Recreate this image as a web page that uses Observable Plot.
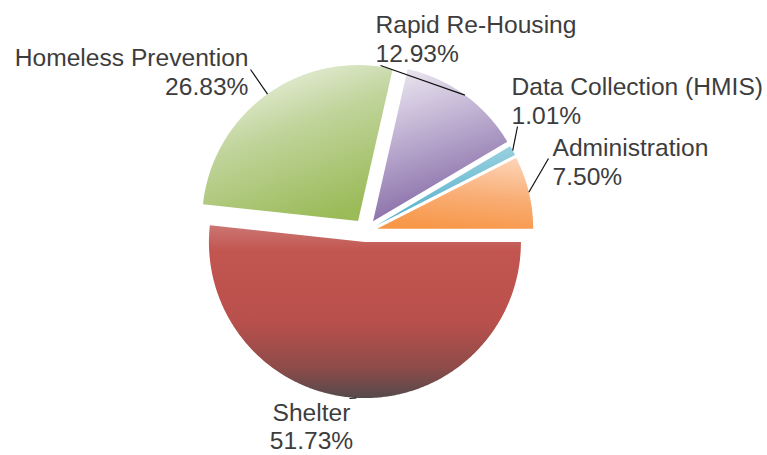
<!DOCTYPE html>
<html><head><meta charset="utf-8">
<script src="https://cdn.jsdelivr.net/npm/d3@7"></script>
<script src="https://cdn.jsdelivr.net/npm/@observablehq/plot@0.6"></script>
<style>html,body{margin:0;padding:0;background:#fff}svg{display:block}</style>
</head><body><div id="chart"></div>
<script>
// ---- data ----
const categories = ["Shelter", "Homeless Prevention", "Rapid Re-Housing", "Data Collection (HMIS)", "Administration"];
const shares = [51.73, 26.83, 12.93, 1.01, 7.50];
const pctLabels = ["51.73%", "26.83%", "12.93%", "1.01%", "7.50%"];

// ---- layout ----
const W = 767, H = 455, CX = 365, CY = 231, R = 156;
const explode = [10.6, 12.8, 12.8, 12, 12];
const gradients = [
  {id: "gShelter", x1: 0, y1: 0, x2: 0, y2: 1, stops: [[0, "#cb7673"], [0.15, "#c2554f"], [0.55, "#ba504c"], [0.82, "#8f4b49"], [1, "#554a4b"]]},
  {id: "gHomeless", x1: 0.15, y1: 0, x2: 0.6, y2: 1, stops: [[0, "#f1f5ea"], [0.45, "#c0d49b"], [1, "#9bbb59"]]},
  {id: "gRapid", x1: 0.2, y1: 0, x2: 0.5, y2: 1, stops: [[0, "#ebe7f0"], [0.35, "#c6b9d7"], [1, "#7f62a1"]]},
  {id: "gData", x1: 0, y1: 0, x2: 0.3, y2: 1, stops: [[0, "#b6dee9"], [1, "#4bacc6"]]},
  {id: "gAdmin", x1: 0.5, y1: 0, x2: 0.3, y2: 1, stops: [[0, "#fcd0b0"], [0.5, "#f9ad74"], [1, "#f79646"]]}
];
const labelLayout = [
  {x: 311, y: 401, anchor: "middle", lx: 349, ly: 398, lh: 1.14},
  {x: 248, y: 45, anchor: "end", lx: 250, ly: 69, lh: 1.17},
  {x: 375, y: 12, anchor: "start", lx: 380, ly: 65, lh: 1.17},
  {x: 511, y: 74, anchor: "start", lx: 517, ly: 126, lh: 1.17},
  {x: 552, y: 135, anchor: "start", lx: 548, ly: 158, lh: 1.17}
];

// ---- geometry from data ----
const arcs = d3.pie().sort(null).startAngle(Math.PI / 2).endAngle(Math.PI / 2 + 2 * Math.PI)(shares);
const pt = (cx, cy, r, a) => ({x: cx + r * Math.sin(a), y: cy - r * Math.cos(a)});
const slices = arcs.map((a, i) => {
  const mid = (a.startAngle + a.endAngle) / 2;
  const c = pt(CX, CY, explode[i], mid);
  const pts = [{x: c.x, y: c.y}];
  const n = Math.max(4, Math.ceil((a.endAngle - a.startAngle) / 0.01));
  for (let k = 0; k <= n; k++) pts.push(pt(c.x, c.y, R, a.startAngle + (a.endAngle - a.startAngle) * k / n));
  pts.push({x: c.x, y: c.y});
  const edge = pt(c.x, c.y, R, mid);
  return {name: categories[i], pts, edge};
});

const font = "Liberation Sans, Arial, Helvetica, sans-serif";
const marks = [];
slices.forEach((s, i) => {
  marks.push(Plot.line(s.pts, {x: "x", y: "y", fill: `url(#${gradients[i].id})`, stroke: "none", curve: "linear"}));
});
const leaders = slices.map((s, i) => ({x1: s.edge.x, y1: s.edge.y, x2: labelLayout[i].lx, y2: labelLayout[i].ly}));
marks.push(Plot.link(leaders, {x1: "x1", y1: "y1", x2: "x2", y2: "y2", stroke: "#111", strokeWidth: 1.2}));
categories.forEach((c, i) => {
  const L = labelLayout[i];
  marks.push(Plot.text([{x: L.x, y: L.y, t: c + "\n" + pctLabels[i]}], {
    x: "x", y: "y", text: "t", textAnchor: L.anchor, lineAnchor: "top", lineHeight: L.lh,
    fontSize: 24.6, fontFamily: font, fill: "#3d3d3d"
  }));
});

const chart = Plot.plot({
  width: W, height: H, margin: 0,
  x: {domain: [0, W], range: [0, W], axis: null},
  y: {domain: [0, H], range: [0, H], axis: null},
  style: {background: "#fff", overflow: "visible"},
  marks
});

const ns = "http://www.w3.org/2000/svg";
const defs = document.createElementNS(ns, "defs");
gradients.forEach(g => {
  const lg = document.createElementNS(ns, "linearGradient");
  lg.setAttribute("id", g.id);
  lg.setAttribute("x1", g.x1); lg.setAttribute("y1", g.y1);
  lg.setAttribute("x2", g.x2); lg.setAttribute("y2", g.y2);
  g.stops.forEach(([o, col]) => {
    const st = document.createElementNS(ns, "stop");
    st.setAttribute("offset", o);
    st.setAttribute("stop-color", col);
    lg.appendChild(st);
  });
  defs.appendChild(lg);
});
chart.insertBefore(defs, chart.firstChild);
document.getElementById("chart").appendChild(chart);
</script>
</body></html>
